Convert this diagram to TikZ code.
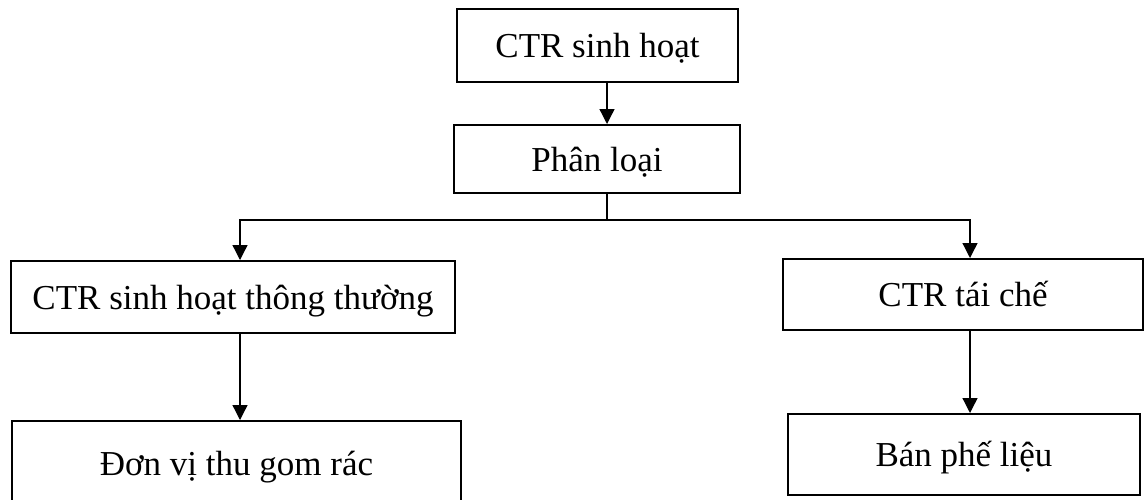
\documentclass[tikz,border=0pt]{standalone}
\usepackage{fontspec}
\setmainfont{Liberation Serif}
\usetikzlibrary{arrows.meta}

\tikzset{
  box/.style={draw, line width=1pt, inner sep=0pt, align=center,
              text height=16pt, text depth=3.7pt,
              font=\fontsize{17.5}{21}\selectfont},
  link/.style={line width=0.65pt},
}

\begin{document}
\begin{tikzpicture}[x=0.5pt, y=-0.5pt, >={Triangle[length=7.5pt,width=7.5pt]}]
  \path[use as bounding box] (0,0) rectangle (1144,499);
  \clip (0,0) rectangle (1144,499);

  % boxes
  \node[box, minimum width=140.5pt, minimum height=36.5pt] (sinhhoat) at (597.5,45.5) {CTR sinh hoạt};
  \node[box, minimum width=143pt, minimum height=34pt] (phanloai) at (597,159) {Phân loại};
  \node[box, minimum width=222pt, minimum height=36pt] (thongthuong) at (233,297) {CTR sinh hoạt thông thường};
  \node[box, minimum width=180pt, minimum height=35.5pt] (taiche) at (963,294.5) {CTR tái chế};
  \node[box, minimum width=224.5pt, minimum height=42pt] (thugom) at (236.5,463) {Đơn vị thu gom rác};
  \node[box, minimum width=176pt, minimum height=40.5pt] (banphelieu) at (964,454.5) {Bán phế liệu};

  % branch points
  \coordinate (split) at (607,220);
  \coordinate (left) at (240,220);
  \coordinate (right) at (970,220);

  % connectors
  \draw[link,->] (sinhhoat.south -| split) -- (phanloai.north -| split);
  \draw[link] (phanloai.south -| split) -- (split);
  \draw[link,->] (split) -| (left |- thongthuong.north);
  \draw[link,->] (split) -| (right |- taiche.north);
  \draw[link,->] (thongthuong.south -| left) -- (thugom.north -| left);
  \draw[link,->] (taiche.south -| right) -- (banphelieu.north -| right);
\end{tikzpicture}
\end{document}
